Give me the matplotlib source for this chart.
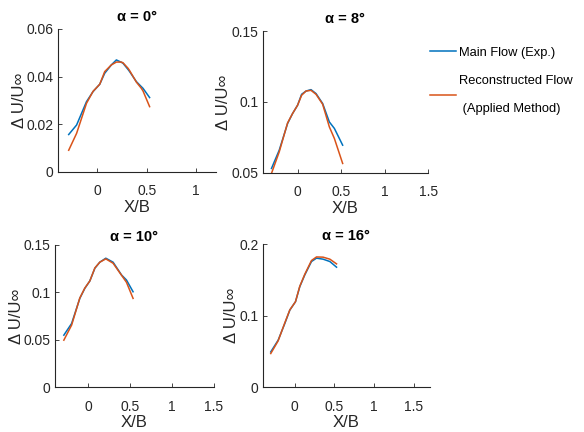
import matplotlib
matplotlib.use("Agg")
import matplotlib.pyplot as plt

plt.rcParams['font.family'] = ['Liberation Sans', 'DejaVu Sans']

# data
titles = ["α = 0°", "α = 8°", "α = 10°", "α = 16°"]

x1 = [-0.29, -0.21, -0.11, -0.044, 0.024, 0.074, 0.141, 0.192, 0.242, 0.259, 0.31, 0.326, 0.394, 0.444, 0.461, 0.528]
main1 = [0.0157, 0.0197, 0.0295, 0.0337, 0.0368, 0.0414, 0.0449, 0.0470, 0.0460, 0.0456, 0.0430, 0.0421, 0.0379, 0.0358, 0.0351, 0.0312]
rec1 = [0.0091, 0.0162, 0.0288, 0.0338, 0.0368, 0.0421, 0.0449, 0.0461, 0.0461, 0.0458, 0.0435, 0.0425, 0.0377, 0.0351, 0.0340, 0.0274]

x2 = [-0.30, -0.211, -0.115, -0.058, 0.0, 0.046, 0.097, 0.154, 0.212, 0.288, 0.365, 0.423, 0.518]
main2 = [0.0531, 0.0660, 0.0848, 0.0918, 0.0977, 0.1054, 0.1077, 0.1087, 0.1059, 0.0989, 0.0859, 0.0813, 0.0695]
rec2 = [0.0496, 0.0648, 0.0852, 0.0918, 0.0977, 0.1047, 0.1077, 0.1082, 0.1054, 0.0984, 0.0824, 0.0742, 0.0566]

x3 = [-0.293, -0.20, -0.102, -0.042, 0.018, 0.078, 0.137, 0.209, 0.296, 0.397, 0.456, 0.535]
main3 = [0.0548, 0.0671, 0.0936, 0.1042, 0.1120, 0.1254, 0.1318, 0.1360, 0.1318, 0.1183, 0.1130, 0.1006]
rec3 = [0.0495, 0.0654, 0.0940, 0.1045, 0.1120, 0.1257, 0.1318, 0.1353, 0.1307, 0.1180, 0.1106, 0.0936]

x4 = [-0.30, -0.207, -0.123, -0.06, 0.011, 0.065, 0.128, 0.212, 0.275, 0.358, 0.443, 0.527]
main4 = [0.0492, 0.0656, 0.0890, 0.1077, 0.1194, 0.1404, 0.1569, 0.1756, 0.1803, 0.1789, 0.1756, 0.1677]
rec4 = [0.0469, 0.0647, 0.0899, 0.1080, 0.1194, 0.1410, 0.1578, 0.1770, 0.1820, 0.1817, 0.1789, 0.1723]

xs = [x1, x2, x3, x4]
mains = [main1, main2, main3, main4]
recs = [rec1, rec2, rec3, rec4]
xlims = [(-0.4, 1.2), (-0.4, 1.5), (-0.4, 1.5), (-0.4, 1.7)]
ylims = [(0, 0.06), (0.05, 0.15), (0, 0.15), (0, 0.2)]
yticks = [[0, 0.02, 0.04, 0.06], [0.05, 0.1, 0.15], [0, 0.05, 0.1, 0.15], [0, 0.1, 0.2]]
ylabs = [["0", "0.02", "0.04", "0.06"], ["0.05", "0.1", "0.15"],
         ["0", "0.05", "0.1", "0.15"], ["0", "0.1", "0.2"]]
xticks = [[0, 0.5, 1], [0, 0.5, 1, 1.5], [0, 0.5, 1, 1.5], [0, 0.5, 1, 1.5]]
xlabs = [["0", "0.5", "1"], ["0", "0.5", "1", "1.5"], ["0", "0.5", "1", "1.5"], ["0", "0.5", "1", "1.5"]]

boxes = [[0.099, 0.602, 0.271, 0.331],
         [0.450, 0.600, 0.283, 0.328],
         [0.094, 0.104, 0.272, 0.329],
         [0.450, 0.104, 0.286, 0.331]]
ylab_x = [-0.196, -0.194, -0.195, -0.144]
title_pad = [6, 6, 3, 3]

blue = '#0072BD'
orange = '#D95319'
grey = '#262626'

fig = plt.figure(figsize=(5.84, 4.32), dpi=100)
for i in range(4):
    ax = fig.add_axes(boxes[i])
    l1, = ax.plot(xs[i], mains[i], color=blue, lw=1.1)
    l2, = ax.plot(xs[i], recs[i], color=orange, lw=1.1)
    ax.set_xlim(*xlims[i])
    ax.set_ylim(*ylims[i])
    ax.set_xticks(xticks[i])
    ax.set_xticklabels(xlabs[i])
    ax.set_yticks(yticks[i])
    ax.set_yticklabels(ylabs[i])
    ax.spines['top'].set_visible(False)
    ax.spines['right'].set_visible(False)
    for s in ['left', 'bottom']:
        ax.spines[s].set_color(grey)
        ax.spines[s].set_linewidth(0.8)
    ax.tick_params(direction='in', length=3, width=0.6, colors=grey, labelsize=10)
    ax.tick_params(axis='x', pad=9)
    ax.tick_params(axis='y', pad=3)
    ax.set_title(titles[i], fontsize=10.5, fontweight='bold', pad=title_pad[i])
    ax.set_xlabel("X/B", fontsize=12, color=grey, labelpad=1)
    ax.set_ylabel("Δ U/U∞", fontsize=12, color=grey)
    ax.yaxis.set_label_coords(ylab_x[i], 0.5)

leg = fig.legend([l1, l2], ["Main Flow (Exp.)", "Reconstructed Flow\n (Applied Method)"],
                 loc='upper left', bbox_to_anchor=(0.716, 0.919), frameon=False,
                 fontsize=9.3, handlelength=2.0, handletextpad=0.3, labelspacing=1.3)
for t in leg.get_texts():
    t.set_linespacing(2.7)

fig.savefig("out.png", dpi=100)
